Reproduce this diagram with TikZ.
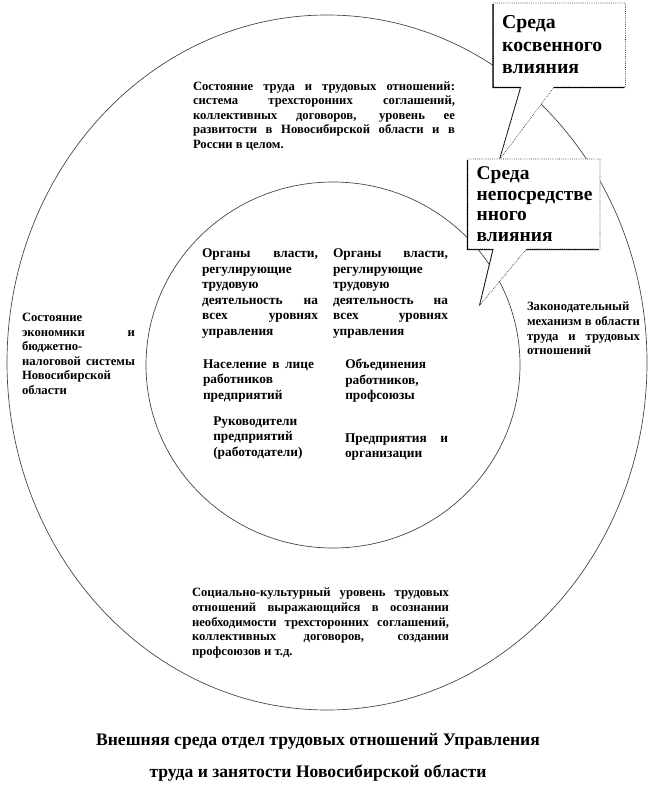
\documentclass[tikz,border=0pt]{standalone}
\usepackage{fontspec}
\setmainfont{Liberation Serif}
\usetikzlibrary{shapes.callouts,shadows}
\tolerance=10000
\hbadness=10000
\tikzset{
  ring/.style={draw=black!75, line width=0.5pt},
  outertext/.style={font=\fontsize{9.5}{10.9}\selectfont\bfseries, align=justify, inner sep=0pt},
  innertext/.style={font=\fontsize{10}{11.6}\selectfont\bfseries, align=justify, inner sep=0pt},
  calloutbox/.style={rectangle callout, draw=black, densely dotted, fill=white, align=left,
    inner xsep=6.5pt, inner ysep=0pt, text width=86pt, minimum width=99pt, callout pointer width=24.75pt,
    drop shadow={shadow xshift=-0.8pt, shadow yshift=-0.8pt, fill=black, opacity=1}},
  captiontext/.style={font=\fontsize{13.2}{24}\selectfont\bfseries, align=center, inner sep=0pt}
}

\begin{document}
\begin{tikzpicture}[x=0.75pt, y=-0.75pt]
  \useasboundingbox (0,0) rectangle (651,809);
  % two rings
  \draw[ring] (327,362.5) ellipse [x radius=320, y radius=347.5];
  \draw[ring] (333,365) ellipse [x radius=187, y radius=183];
  % outer ring
  \node[outertext, text width=196.5pt] (labour) at (324,116)
    {Состояние труда и трудовых отношений:\linebreak система трехсторонних соглашений,\linebreak коллективных договоров, уровень ее\linebreak развитости в Новосибирской области и в\linebreak России в целом.};
  \node[outertext, text width=84.75pt] (economy) at (78.5,354)
    {Состояние\linebreak экономики и\linebreak бюджетно-\linebreak налоговой системы\linebreak Новосибирской\linebreak области};
  \node[outertext, text width=84.75pt] (law) at (583.5,328.5)
    {Законодательный\linebreak механизм в области\linebreak труда и трудовых\linebreak отношений};
  \node[outertext, text width=192.75pt] (culture) at (320.5,623)
    {Социально-культурный уровень трудовых\linebreak отношений выражающийся в осознании\linebreak необходимости трехсторонних соглашений,\linebreak коллективных договоров, создании\linebreak профсоюзов и т.д.};
  % inner ring
  \node[innertext, text width=87pt] (powerA) at (260,293.5)
    {Органы власти,\linebreak регулирующие\linebreak трудовую\linebreak деятельность на\linebreak всех уровнях\linebreak управления};
  \node[innertext, text width=86.25pt] (powerB) at (390.5,293.5)
    {Органы власти,\linebreak регулирующие\linebreak трудовую\linebreak деятельность на\linebreak всех уровнях\linebreak управления};
  \node[innertext, text width=83.25pt] (staff) at (258.5,381)
    {Население в лице\linebreak работников\linebreak предприятий};
  \node[innertext, align=left, anchor=west] (unions) at (345,381)
    {Объединения\\ работников,\\ профсоюзы};
  \node[innertext, align=left, anchor=west] (heads) at (213,438)
    {Руководители\\ предприятий\\ (работодатели)};
  \node[innertext, text width=77.25pt] (firms) at (396.5,447)
    {Предприятия и\linebreak организации};
  % callouts
  \coordinate (tipA) at (500,159);
  \coordinate (tipB) at (480,305);
  \node[calloutbox, minimum height=63pt, font=\fontsize{14.8}{16.9}\selectfont\bfseries,
    callout absolute pointer={(tipA)}] (indirect) at (559.5,45)
    {Среда\\ косвенного\\ влияния};
  \node[calloutbox, minimum height=67.5pt, font=\fontsize{14.6}{15.5}\selectfont\bfseries,
    callout absolute pointer={(tipB)}] (direct) at (534,204)
    {Среда\\ непосредстве\\ нного\\ влияния};
  % caption
  \node[captiontext] (caption) at (318,757)
    {Внешняя среда отдел трудовых отношений Управления\\ труда и занятости Новосибирской области};
\end{tikzpicture}
\end{document}
